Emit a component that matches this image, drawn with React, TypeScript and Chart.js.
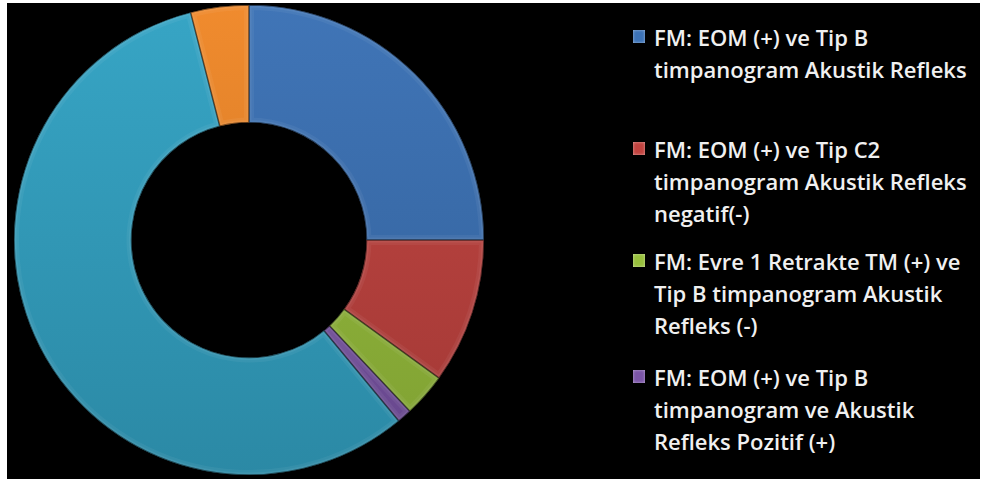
import React, { useEffect, useRef } from "react";
import { Chart, registerables } from "chart.js";

Chart.register(...registerables);

const categories = [
  "FM: EOM (+) ve Tip B timpanogram Akustik Refleks",
  "FM: EOM (+) ve Tip C2 timpanogram Akustik Refleks negatif(-)",
  "FM: Evre 1 Retrakte TM (+) ve Tip B timpanogram Akustik Refleks (-)",
  "FM: EOM (+) ve Tip B timpanogram ve Akustik Refleks Pozitif (+)",
  "Diğer",
  "Diğer 2",
];
const values = [25, 10, 3, 1, 57, 4];
const colors = ["#3c72b6", "#c1433f", "#97bf3c", "#7b55a7", "#33a3c4", "#f0892a"];
const legendLines = [
  ["FM: EOM (+) ve Tip B", "timpanogram Akustik Refleks"],
  ["FM: EOM (+) ve Tip C2", "timpanogram Akustik Refleks", "negatif(-)"],
  ["FM: Evre 1 Retrakte TM (+) ve", "Tip B timpanogram Akustik", "Refleks (-)"],
  ["FM: EOM (+) ve Tip B", "timpanogram ve Akustik", "Refleks Pozitif (+)"],
];
const legendTops = [21, 133, 245, 361];

function shade(hex: string, f: number) {
  const n = parseInt(hex.slice(1), 16);
  const c = [(n >> 16) & 255, (n >> 8) & 255, n & 255].map((v) =>
    Math.max(0, Math.min(255, Math.round(f >= 1 ? v + (255 - v) * (f - 1) : v * f)))
  );
  return `rgb(${c[0]},${c[1]},${c[2]})`;
}

const bevel = {
  id: "bevel",
  afterDatasetsDraw(chart: any) {
    const ctx = chart.ctx;
    const meta = chart.getDatasetMeta(0);
    meta.data.forEach((arc: any) => {
      const p = arc.getProps(["x", "y", "startAngle", "endAngle", "innerRadius", "outerRadius"]);
      ctx.save();
      ctx.beginPath();
      ctx.arc(p.x, p.y, p.outerRadius, p.startAngle, p.endAngle);
      ctx.arc(p.x, p.y, p.innerRadius, p.endAngle, p.startAngle, true);
      ctx.closePath();
      ctx.clip();
      ctx.lineJoin = "round";
      ctx.lineWidth = 10;
      ctx.strokeStyle = "rgba(255,255,255,0.05)";
      ctx.stroke();
      ctx.lineWidth = 5;
      ctx.strokeStyle = "rgba(255,255,255,0.06)";
      ctx.stroke();
      ctx.lineWidth = 1.5;
      ctx.strokeStyle = "rgba(0,0,0,0.55)";
      ctx.stroke();
      ctx.restore();
    });
  },
};

export default function App() {
  const ref = useRef<HTMLCanvasElement | null>(null);
  useEffect(() => {
    if (!ref.current) return;
    const chart = new Chart(ref.current, {
      type: "doughnut",
      data: {
        labels: categories,
        datasets: [
          {
            data: values,
            backgroundColor: (c: any) => {
              const base = colors[c.dataIndex];
              const g = c.chart.ctx.createLinearGradient(0, 0, 0, 470);
              g.addColorStop(0, shade(base, 1.02));
              g.addColorStop(1, shade(base, 0.84));
              return g;
            },
            borderWidth: 0,
          },
        ],
      },
      options: {
        animation: false,
        responsive: false,
        maintainAspectRatio: false,
        cutout: "50%",
        layout: { padding: 0 },
        plugins: { legend: { display: false }, tooltip: { enabled: false } },
      },
      plugins: [bevel],
    });
    return () => chart.destroy();
  }, []);

  return (
    <div
      style={{
        position: "fixed",
        left: 0,
        top: 0,
        width: 985,
        height: 484,
        background: "#fff",
      }}
    >
      <div
        style={{
          position: "absolute",
          left: 7,
          top: 3,
          width: 973,
          height: 476,
          background: "#000",
        }}
      />
      <canvas
        ref={ref}
        width={470}
        height={470}
        style={{ position: "absolute", left: 14, top: 5, width: 470, height: 470 }}
      />
      {legendLines.map((lines, i) => (
        <div
          key={i}
          style={{
            position: "absolute",
            left: 632,
            top: legendTops[i],
            fontFamily: "'Open Sans', sans-serif",
            fontSize: 22,
            fontWeight: 600,
            lineHeight: "32px",
            color: "#f0f0f0",
            textShadow: "1px 1px 2px rgba(0,0,0,0.8)",
          }}
        >
          <div
            style={{
              position: "absolute",
              left: 1,
              top: 9,
              width: 12,
              height: 13,
              background: colors[i],
              boxShadow: "inset 0 0 3px rgba(255,255,255,0.55)",
            }}
          />
          {lines.map((t, j) => (
            <div key={j} style={{ marginLeft: 22, whiteSpace: "nowrap" }}>
              {t}
            </div>
          ))}
        </div>
      ))}
    </div>
  );
}
